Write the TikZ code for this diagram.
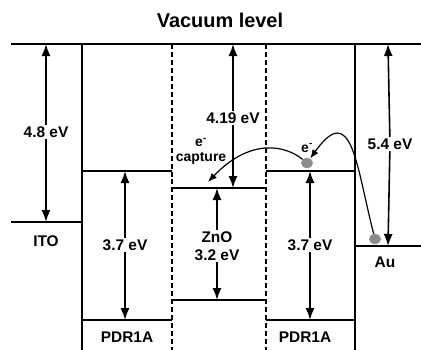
\documentclass[tikz,border=0pt]{standalone}
\usepackage{fontspec}
\setmainfont{Liberation Sans}
\usetikzlibrary{arrows.meta,shapes.geometric}

\begin{document}
\begin{tikzpicture}[x=1bp,y=-1bp]
\tikzset{
  level/.style={draw=black,line width=2.8pt},
  interface/.style={draw=black,line width=1.8pt,dash pattern=on 5pt off 3pt},
  gaparrow/.style={draw=black,line width=1.6pt,-{Latex[length=12bp,width=9bp]}},
  hop/.style={draw=black,line width=1.2pt,-{Latex[length=9bp,width=7bp]}},
  gaplabel/.style={font=\bfseries\fontsize{15.5}{18}\selectfont,inner sep=1.5pt,align=center},
  smalllabel/.style={font=\bfseries\fontsize{14}{15}\selectfont,inner sep=0.5pt,align=center},
  electron/.style={ellipse,fill=black!45,draw=none,minimum width=12bp,minimum height=10bp,inner sep=0pt}
}
\useasboundingbox (0,0) rectangle (421,350);
% title
\node[font=\bfseries\fontsize{20}{22}\selectfont] (n_vac) at (220,20) {Vacuum level};
% levels
\draw[level] (11,44) -- (421,44);
\draw[level] (82,44) -- (82,350);
\draw[level] (355,44) -- (355,350);
\draw[level] (11,222) -- (82,222);
\draw[level] (82,171) -- (172,171);
\draw[level] (82,320) -- (172,320);
\draw[level] (172,188) -- (266,188);
\draw[level] (172,300) -- (266,300);
\draw[level] (266,171) -- (355,171);
\draw[level] (266,320) -- (355,320);
\draw[level] (355,246) -- (421,246);
\draw[interface] (172,44) -- (172,350);
\draw[interface] (266,44) -- (266,350);
% end points of the arrows
\coordinate (ito_top) at (46,44);
\coordinate (ito_bot) at (46,222);
\coordinate (pdl_top) at (125,171);
\coordinate (pdl_bot) at (125,320);
\coordinate (zno_top) at (217,188);
\coordinate (zno_bot) at (217,300);
\coordinate (ea_top) at (233,44);
\coordinate (ea_bot) at (233,188);
\coordinate (pdr_top) at (310,171);
\coordinate (pdr_bot) at (310,320);
\coordinate (au_top) at (388,44);
\coordinate (au_bot) at (388,246);
\coordinate (capture_tip) at (208,182);
% labels
\node[gaplabel] (n_ito_gap) at (46,132) {4.8 eV};
\node[gaplabel] (n_ito) at (46,241) {ITO};
\node[gaplabel] (n_pdl_gap) at (125,245) {3.7 eV};
\node[gaplabel] (n_pdl) at (127,337) {PDR1A};
\node[gaplabel] (n_zno_gap) at (217,246) {ZnO\\3.2 eV};
\node[gaplabel] (n_ea_gap) at (233,118) {4.19 eV};
\node[gaplabel] (n_pdr_gap) at (310,245) {3.7 eV};
\node[gaplabel] (n_pdr) at (305,337) {PDR1A};
\node[gaplabel] (n_au_gap) at (390,144) {5.4 eV};
\node[gaplabel] (n_au) at (385,262) {Au};
\node[smalllabel] (n_capture) at (201,151) {e\textsuperscript{-}\\capture};
% gap arrows
\draw[gaparrow] (n_ito_gap) -- (ito_top);
\draw[gaparrow] (n_ito_gap) -- (ito_bot);
\draw[gaparrow] (n_pdl_gap) -- (pdl_top);
\draw[gaparrow] (n_pdl_gap) -- (pdl_bot);
\draw[gaparrow] (n_zno_gap) -- (zno_top);
\draw[gaparrow] (n_zno_gap) -- (zno_bot);
\draw[gaparrow] (n_ea_gap) -- (ea_top);
\draw[gaparrow] (n_ea_gap) -- (ea_bot);
\draw[gaparrow] (n_pdr_gap) -- (pdr_top);
\draw[gaparrow] (n_pdr_gap) -- (pdr_bot);
\draw[gaparrow] (n_au_gap) -- (au_top);
\draw[gaparrow] (n_au_gap) -- (au_bot);
% electrons
\node[electron] (n_e_au) at (375,239) {};
\node[electron] (n_e_pdr) at (307,163) {};
\node[smalllabel] (n_e_lbl) at (307,148) {e\textsuperscript{-}};
\draw[hop] (n_e_au) .. controls (356,165) and (352,100) .. (n_e_pdr);
\draw[hop] (n_e_pdr) .. controls (285,145) and (250,138) .. (capture_tip);
\end{tikzpicture}
\end{document}
